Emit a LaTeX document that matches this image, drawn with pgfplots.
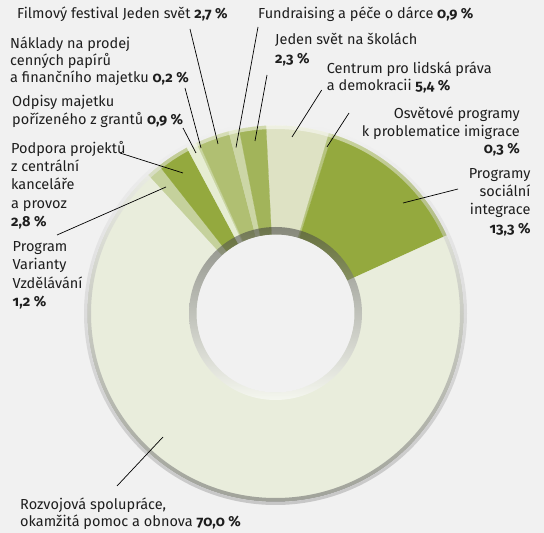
\documentclass[border=0pt]{standalone}
\usepackage{pgfplots}
\pgfplotsset{compat=1.18}
\usepackage{fontspec}
\setmainfont{Fira Sans}[Numbers=OldStyle]
\definecolor{bg}{HTML}{F1F1F1}
\definecolor{cRoz}{HTML}{E9EDDC}
\definecolor{cCen}{HTML}{DEE2C4}
\definecolor{cOsv}{HTML}{B6C47E}
\definecolor{cPro}{HTML}{94A93E}
\definecolor{cVar}{HTML}{C5D19C}
\definecolor{cPod}{HTML}{94A93E}
\definecolor{cOdp}{HTML}{E6EDD2}
\definecolor{cNak}{HTML}{C9D5A0}
\definecolor{cFil}{HTML}{B0BF72}
\definecolor{cFun}{HTML}{CCD6A6}
\definecolor{cJed}{HTML}{A2B45A}
\definecolor{txt}{HTML}{1E1E1E}
\newcommand{\lf}{\fontsize{14.5}{17}\selectfont}
% slice: cumulative start %, cumulative end %, colour
\newcommand{\slice}[3]{%
  \pgfmathsetmacro\aa{92.9-3.6*#2}%
  \pgfmathsetmacro\bb{92.9-3.6*#1}%
  \edef\tmp{\noexpand\addplot[fill=#3, draw=#3, line width=0.2pt, domain=\aa:\bb, samples=120]
    ({275.5+188*cos(x)},{219.5+188*sin(x)}) -- (axis cs:275.5,219.5) -- cycle;}%
  \tmp}
\newcommand{\labl}[3]{\node[anchor=base west, inner sep=0pt, text=txt, font=\lf] at (axis cs:#1,{533-#2}) {#3};}
\newcommand{\labr}[3]{\node[anchor=base east, inner sep=0pt, text=txt, font=\lf] at (axis cs:#1,{533-#2}) {#3};}
\newcommand{\lead}[4]{\draw[black, line width=0.7pt] (axis cs:#1,{533-#2}) -- (axis cs:#3,{533-#4});}
\begin{document}
\begin{tikzpicture}
\fill[bg] (0,0) rectangle (544pt,533pt);
\begin{axis}[scale only axis, width=544pt, height=533pt,
  xmin=0, xmax=544, ymin=0, ymax=533, hide axis, clip=false,
  at={(0pt,0pt)}, anchor=origin]
% data: shares in %, clockwise from the top
\slice{0}{5.4}{cCen}     % Centrum pro lidska prava 5.4
\slice{5.4}{5.7}{cOsv}   % Osvetove programy 0.3
\slice{5.7}{19.0}{cPro}  % Programy socialni integrace 13.3
\slice{19.0}{89.0}{cRoz} % Rozvojova spoluprace 70.0
\slice{89.0}{90.2}{cVar} % Program Varianty 1.2
\slice{90.2}{93.0}{cPod} % Podpora projektu 2.8
\slice{93.0}{93.9}{cOdp} % Odpisy 0.9
\slice{93.9}{94.1}{cNak} % Naklady 0.2
\slice{94.1}{96.8}{cFil} % Filmovy festival 2.7
\slice{96.8}{97.7}{cFun} % Fundraising 0.9
\slice{97.7}{100}{cJed}  % Jeden svet na skolach 2.3
% hole and rims
\fill[bg] (axis cs:275.5,219.5) circle[radius=79];
\path[even odd rule, fill opacity=0.55, top color=black!75, middle color=black!35, bottom color=white]
  (axis cs:275.5,219.5) circle[radius=86.5] (axis cs:275.5,219.5) circle[radius=79];
\path[even odd rule, fill opacity=0.5, top color=white, bottom color=black!65]
  (axis cs:275.5,219.5) circle[radius=188.5] (axis cs:275.5,219.5) circle[radius=184.5];
\path[even odd rule, top color=bg, bottom color=black!22]
  (axis cs:275.5,219.5) circle[radius=191.5] (axis cs:275.5,219.5) circle[radius=188.5];
% leader lines
\lead{190}{29}{218}{144}
\lead{258}{27}{236}{147.5}
\lead{267}{75}{255}{141}
\lead{185}{88}{201}{148}
\lead{183}{128}{196}{153}
\lead{120}{153}{183}{173}
\lead{57}{235}{166}{187}
\lead{117}{486}{163}{437}
\lead{321.7}{90}{292}{137}
\lead{349}{113}{327}{147}
\lead{458}{189}{403}{203}
% labels
\labl{17}{18.5}{Filmový festival Jeden svět \textbf{2,7~\%}}
\labl{258}{18.5}{Fundraising a péče o dárce \textbf{0,9~\%}}
\labl{10}{49}{Náklady na prodej}
\labl{10}{66}{cenných papírů}
\labl{10}{83}{a finančního majetku \textbf{0,2~\%}}
\labl{12}{106.5}{Odpisy majetku}
\labl{12}{125}{pořízeného z grantů \textbf{0,9~\%}}
\labl{11}{153.3}{Podpora projektů}
\labl{11}{171.7}{z centrální}
\labl{11}{190}{kanceláře}
\labl{11}{208.3}{a provoz}
\labl{11}{227}{\textbf{2,8~\%}}
\labl{12.5}{251.7}{Program}
\labl{12.5}{270}{Varianty}
\labl{12.5}{288.3}{Vzdělávání}
\labl{12.5}{306.7}{\textbf{1,2~\%}}
\labl{275}{45}{Jeden svět na školách}
\labl{275}{63.3}{\textbf{2,3~\%}}
\labl{326.7}{73.3}{Centrum pro lidská práva}
\labl{326.7}{90.7}{a demokracii \textbf{5,4~\%}}
\labr{520}{118.3}{Osvětové programy}
\labr{520}{136.7}{k problematice imigrace}
\labr{520}{154}{\textbf{0,3~\%}}
\labr{530.7}{178.3}{Programy}
\labr{530.7}{196.7}{sociální}
\labr{530.7}{215}{integrace}
\labr{530.7}{233.3}{\textbf{13,3~\%}}
\labl{20}{509.3}{Rozvojová spolupráce,}
\labl{20}{526.7}{okamžitá pomoc a obnova \textbf{70,0~\%}}
\end{axis}
\end{tikzpicture}
\end{document}
